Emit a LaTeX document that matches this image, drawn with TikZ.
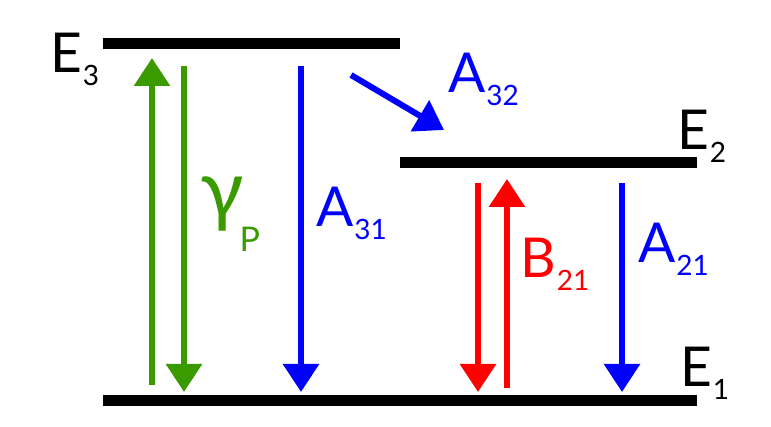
\documentclass[tikz,border=0pt]{standalone}
\usepackage{fontspec}
\setmainfont{Lato}
\usetikzlibrary{arrows.meta, positioning}
\definecolor{pumpgreen}{RGB}{58,154,0}
\newcommand{\lvllabel}[2]{{\fontsize{55}{55}\selectfont #1}\kern1pt\raisebox{-13pt}{\fontsize{28}{28}\selectfont #2}}
\tikzset{
    level bar/.style = {line width=11pt, black},
    rate arrow/.style = {line width=6pt, -{Triangle[width=35pt, length=28pt]}},
    rate label/.style = {inner sep=0pt, anchor=base west}
}

\begin{document}
\begin{tikzpicture}[x=1pt, y=-1pt]
        \useasboundingbox (0,0) rectangle (771,427);
        % energy levels
        \coordinate (e3w) at (103,44);
        \coordinate (e3e) at (400,44);
        \coordinate (e2w) at (400,163);
        \coordinate (e2e) at (697,163);
        \coordinate (e1w) at (103,401);
        \coordinate (e1e) at (697,401);
        \draw[level bar] (e3w) -- (e3e);
        \draw[level bar] (e2w) -- (e2e);
        \draw[level bar] (e1w) -- (e1e);
        \node[rate label] (e3lbl) at (50,73) {\lvllabel{E}{3}};
        \node[rate label] (e2lbl) at (677,150) {\lvllabel{E}{2}};
        \node[rate label] (e1lbl) at (680,387) {\lvllabel{E}{1}};

        % arrow ends
        \coordinate (pumpbot) at (152,385);
        \coordinate (pumptop) at (152,58);
        \coordinate (backtop) at (184,66);
        \coordinate (backbot) at (184,392);
        \coordinate (a31top) at (301,66);
        \coordinate (a31bot) at (301,392);
        \coordinate (a32start) at (351,75);
        \coordinate (a32end) at (444,130);
        \coordinate (stimtop) at (478,183);
        \coordinate (stimbot) at (478,392);
        \coordinate (absbot) at (507,388);
        \coordinate (abstop) at (507,179);
        \coordinate (a21top) at (622,183);
        \coordinate (a21bot) at (622,392);

        \draw[rate arrow, pumpgreen] (pumpbot) -- (pumptop);
        \draw[rate arrow, pumpgreen] (backtop) -- (backbot);
        \draw[rate arrow, blue] (a31top) -- (a31bot);
        \draw[rate arrow, blue] (a32start) -- (a32end);
        \draw[rate arrow, red] (stimtop) -- (stimbot);
        \draw[rate arrow, red] (absbot) -- (abstop);
        \draw[rate arrow, blue] (a21top) -- (a21bot);

        \node[rate label, text=pumpgreen] (gplbl) at (200,218) {{\fontsize{80}{80}\selectfont γ}\kern-4pt\raisebox{-34pt}{\fontsize{34}{34}\selectfont P}};
        \node[rate label, text=blue] (a31lbl) at (316,227) {\lvllabel{A}{31}};
        \node[rate label, text=blue] (a32lbl) at (448,93) {\lvllabel{A}{32}};
        \node[rate label, text=red] (b21lbl) at (520,278) {\lvllabel{B}{21}};
        \node[rate label, text=blue] (a21lbl) at (638,263) {\lvllabel{A}{21}};
    \end{tikzpicture}
\end{document}
